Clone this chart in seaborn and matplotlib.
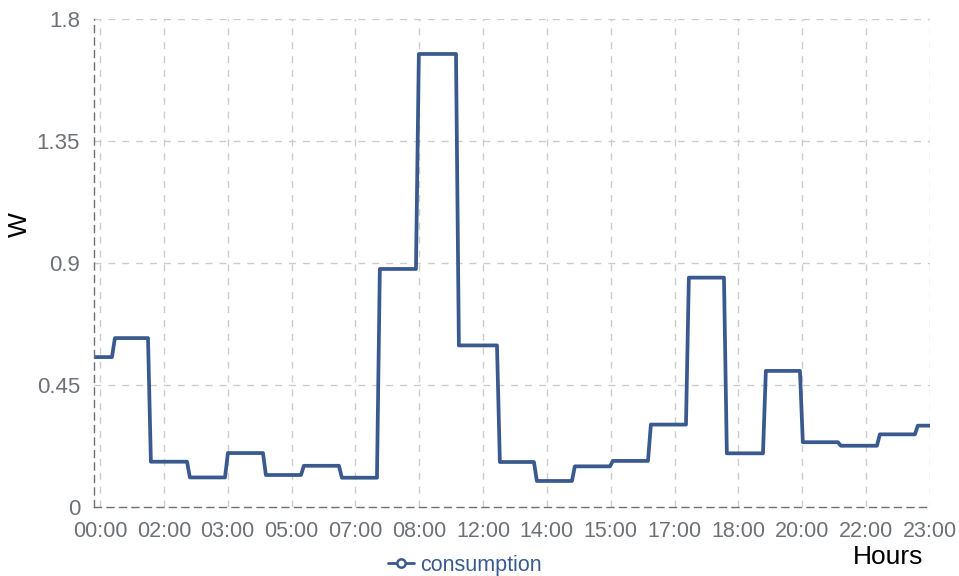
import matplotlib
matplotlib.use('Agg')

import matplotlib.pyplot as plt
import numpy as np
import pandas as pd
import seaborn as sns
from matplotlib.lines import Line2D

# data
tick_labels = ['00:00', '02:00', '03:00', '05:00', '07:00', '08:00', '12:00',
               '14:00', '15:00', '17:00', '18:00', '20:00', '22:00', '23:00']
levels = [0.553, 0.623, 0.167, 0.109, 0.199, 0.118, 0.152, 0.108, 0.878, 1.671,
          0.596, 0.166, 0.096, 0.150, 0.170, 0.304, 0.846, 0.198, 0.502, 0.239,
          0.226, 0.268, 0.300]
# where each level changes (in tick units along the category axis)
change_at = [0.188, 0.752, 1.363, 1.958, 2.553, 3.148, 3.743, 4.338, 4.949, 5.576,
             6.218, 6.797, 7.392, 7.988, 8.583, 9.178, 9.773, 10.384, 10.963,
             11.558, 12.169, 12.764]
x_start, x_end = -0.094, 13.0
yticks = [0, 0.45, 0.9, 1.35, 1.8]

ramp = 0.045
xs, ys = [x_start], [levels[0]]
for i, c in enumerate(change_at):
    xs += [c, c + ramp]
    ys += [levels[i], levels[i + 1]]
xs.append(x_end)
ys.append(levels[-1])
df = pd.DataFrame({'pos': xs, 'consumption': ys})

sns.set_style('white')
plt.rcParams['font.family'] = ['Liberation Sans', 'DejaVu Sans']

color = '#3a5a8f'
grid_c = '#cccccc'
axis_c = '#6e7079'

fig = plt.figure(figsize=(9.59, 5.76), dpi=100)
ax = fig.add_axes([94 / 959, 69 / 576, 836 / 959, 488 / 576])

sns.lineplot(data=df, x='pos', y='consumption', sort=False, estimator=None,
             color=color, linewidth=2.7, ax=ax, legend=False,
             solid_joinstyle='round', solid_capstyle='round')

ax.set_xlim(x_start, x_end)
ax.set_ylim(0, 1.8)
ax.set_xticks(np.arange(len(tick_labels)))
ax.set_xticklabels(tick_labels)
ax.set_yticks(yticks)
ax.set_yticklabels(['0', '0.45', '0.9', '1.35', '1.8'])

for v in np.arange(len(tick_labels)):
    ax.axvline(v, color=grid_c, lw=1, ls=(0, (5, 5)), zorder=0)
for v in yticks[1:]:
    ax.axhline(v, color=grid_c, lw=1, ls=(0, (5, 5)), zorder=0)

for s in ['top', 'right']:
    ax.spines[s].set_visible(False)
for s in ['left', 'bottom']:
    ax.spines[s].set_color(axis_c)
    ax.spines[s].set_linestyle((0, (5, 4)))
    ax.spines[s].set_linewidth(1)

ax.tick_params(axis='both', colors=axis_c, labelsize=16, length=6, width=1,
               direction='out', labelcolor=axis_c)
ax.tick_params(axis='x', pad=4, labelsize=15.5)
ax.tick_params(axis='y', pad=4)

ax.set_ylabel('W', fontsize=19, color='black', va='center')
ax.yaxis.set_label_coords(-0.0885, 0.578)
ax.set_xlabel('Hours', fontsize=19, color='black', va='center')
ax.xaxis.set_label_coords(0.95, -0.1025)

handle = Line2D([], [], color=color, lw=2, marker='o', markersize=6,
                markerfacecolor='white', markeredgewidth=1.8)
fig.legend([handle], ['consumption'], loc='center', bbox_to_anchor=(0.485, 0.019),
           frameon=False, fontsize=15.5, labelcolor=color, handlelength=1.2,
           handletextpad=0.3)

plt.savefig('out.png', dpi=100)
